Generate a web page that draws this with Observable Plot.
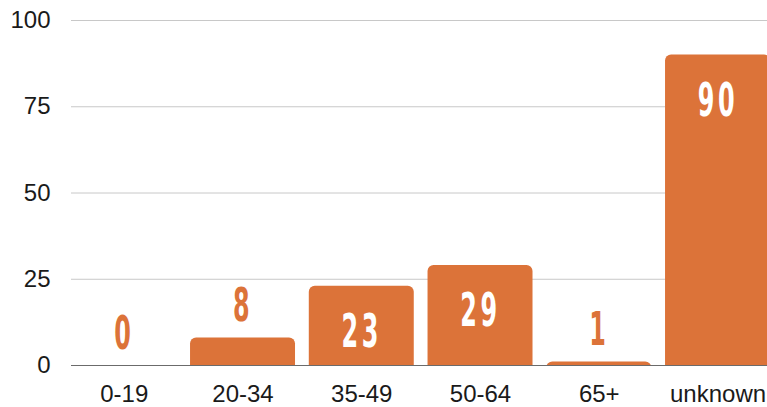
<!DOCTYPE html>
<html>
<head>
<meta charset="utf-8">
<script src="https://cdn.jsdelivr.net/npm/d3@7"></script>
<script src="https://cdn.jsdelivr.net/npm/@observablehq/plot@0.6"></script>
<style>
  html, body { margin: 0; padding: 0; background: #fff; }
  #chart svg { display: block; overflow: hidden; }
  #chart svg g[aria-label*="axis"] { font-size: 24px; }
</style>
</head>
<body>
<div id="chart"></div>
<script>
const categories = ["0-19", "20-34", "35-49", "50-64", "65+", "unknown"];
const values = [0, 8, 23, 29, 1, 90];
const yTicks = [0, 25, 50, 75, 100];

const data = categories.map((c, i) => ({age: c, count: values[i]}));
const orange = "#DC7339";
const labelFont = "DejaVu Sans, Liberation Sans, sans-serif";

const chart = Plot.plot({
  width: 767,
  height: 407,
  marginTop: 20,
  marginBottom: 42,
  marginLeft: 71,
  marginRight: 0,
  style: {fontSize: "24px", fontFamily: "Liberation Sans, Arial, sans-serif", color: "#1a1a1a", background: "#fff"},
  x: {domain: categories, range: [64.4, 776.9], round: false, paddingInner: 0.116, paddingOuter: 0.058, tickSize: 0, tickPadding: 19, label: null},
  y: {domain: [0, 100], ticks: yTicks, tickSize: 0, tickPadding: 21, label: null},
  marks: [
    Plot.ruleY(yTicks.filter(d => d > 0), {stroke: "#c8c8c8", strokeWidth: 1}),
    Plot.rectY(data, {x: "age", y1: -3, y2: "count", fill: orange, rx: 6, clip: true}),
    Plot.ruleY([0], {stroke: "#6b6b6b", strokeWidth: 1}),
    Plot.text(data.filter(d => d.count < 20), {
      x: "age", y: "count", text: d => String(d.count), dy: -17, lineAnchor: "bottom",
      fill: orange, fontSize: 46, fontWeight: "bold", fontFamily: labelFont
    }),
    Plot.text(data.filter(d => d.count >= 20), {
      x: "age", y: "count", text: d => String(d.count), dy: 28, lineAnchor: "top",
      fill: "white", fontSize: 46, fontWeight: "bold", fontFamily: labelFont
    })
  ]
});

chart.querySelectorAll('g[aria-label="text"] text').forEach(t => {
  const tr = t.getAttribute("transform") || "";
  t.setAttribute("transform", tr + " scale(0.52,1)");
  t.setAttribute("letter-spacing", "7");
});

document.getElementById("chart").appendChild(chart);
</script>
</body>
</html>
